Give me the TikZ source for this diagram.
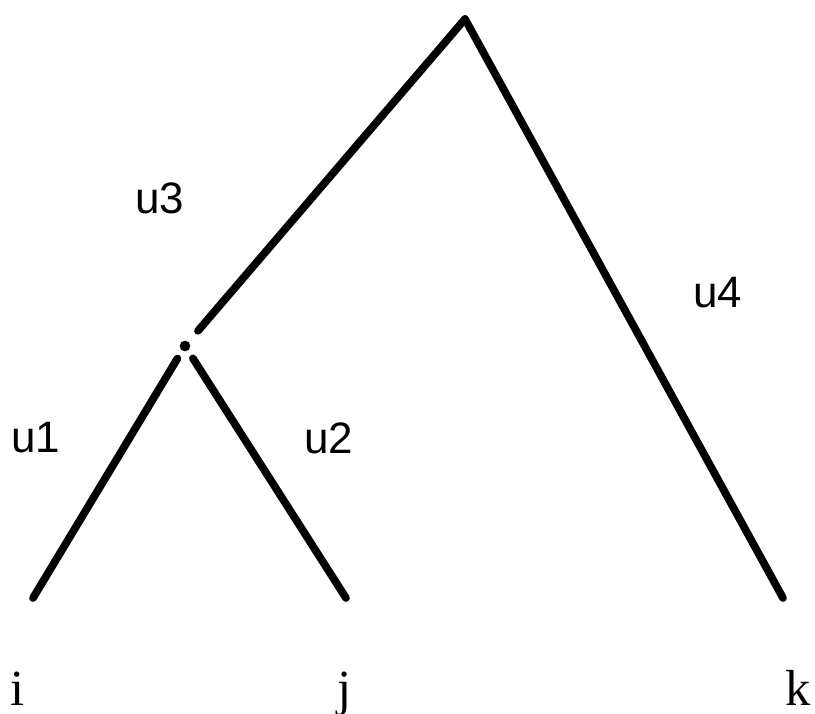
\documentclass[tikz,border=0pt]{standalone}
\usepackage{fontspec}
\setmainfont{Liberation Serif}
\newfontfamily\labelsans{Liberation Sans}
\begin{document}
\begin{tikzpicture}[x=0.75pt,y=-0.75pt,
  branch/.style={line width=5.8pt,line cap=round},
  edgelabel/.style={font=\labelsans\fontsize{33}{36}\selectfont,inner sep=0pt},
  leaflabel/.style={font=\fontsize{38}{42}\selectfont,inner sep=0pt,anchor=base}]
\useasboundingbox (0,0) rectangle (815,714);
\coordinate (apex) at (465,19);
\coordinate (mid) at (185,346);
\coordinate (li) at (33,598);
\coordinate (lj) at (346,598);
\coordinate (lk) at (783,598);
\fill (mid) circle (4pt);
\draw[branch,shorten <=15pt] (mid) -- (apex);
\draw[branch] (apex) -- (lk);
\draw[branch,shorten <=11pt] (mid) -- (li);
\draw[branch,shorten <=11pt] (mid) -- (lj);
\node[edgelabel] (u3) at (160,198) {u3};
\node[edgelabel] (u4) at (718,293) {u4};
\node[edgelabel] (u1) at (36,438) {u1};
\node[edgelabel] (u2) at (329,438) {u2};
\node[leaflabel] (ti) at (18,705) {i};
\node[leaflabel] (tj) at (345,705) {j};
\node[leaflabel] (tk) at (798,705) {k};
\end{tikzpicture}
\end{document}
